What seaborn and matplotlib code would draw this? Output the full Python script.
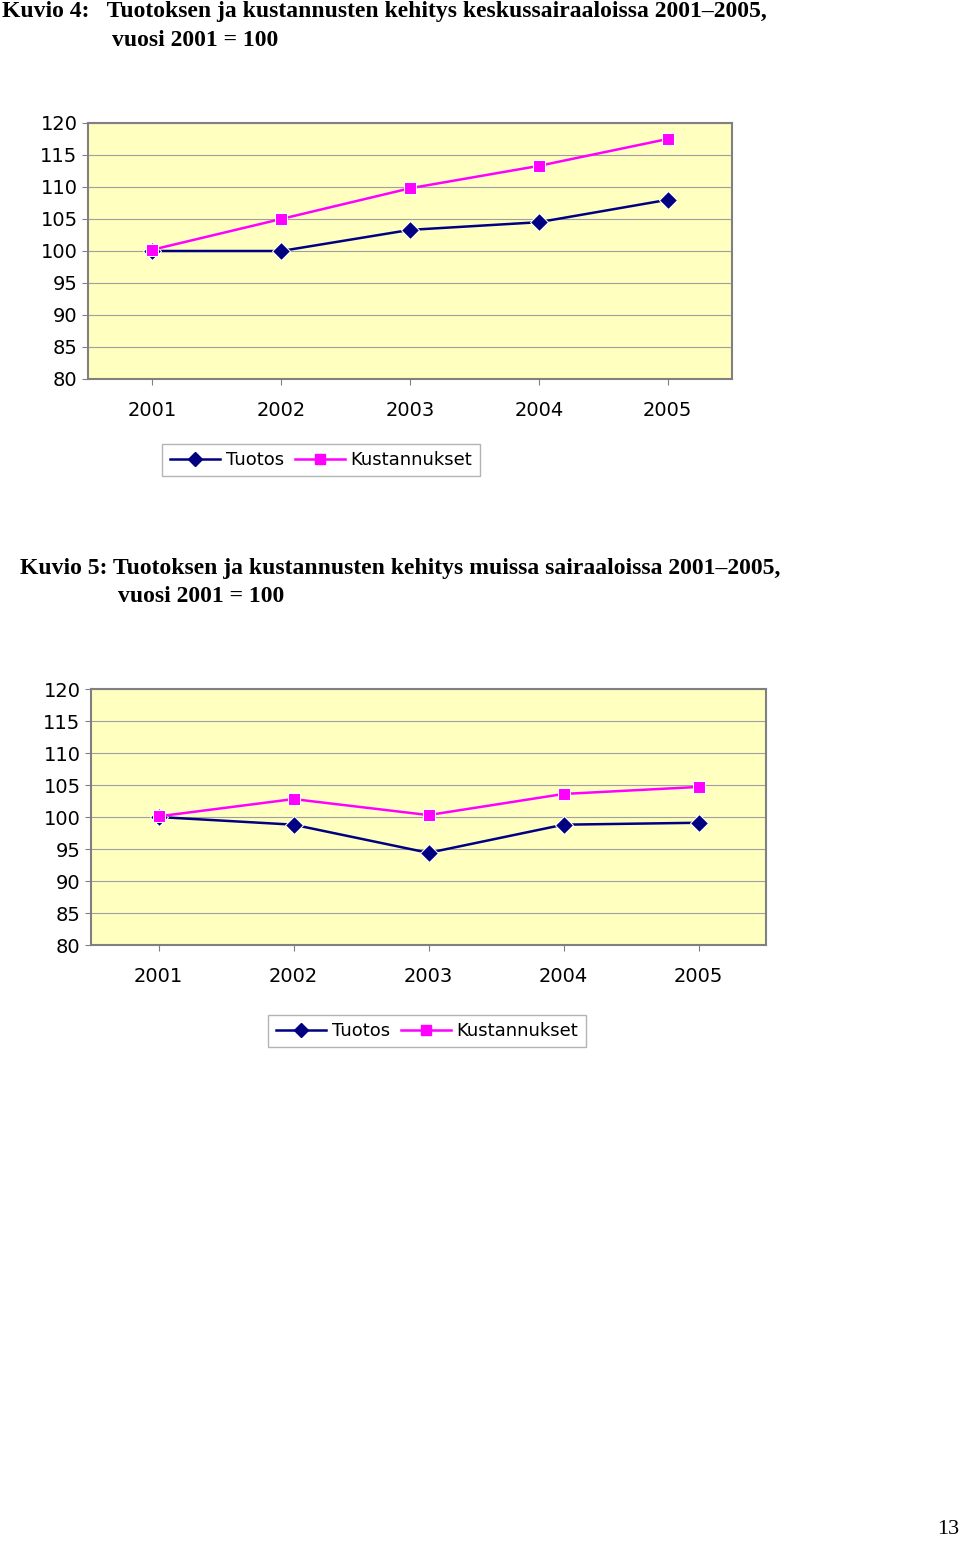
import matplotlib
matplotlib.use("Agg")
import matplotlib.pyplot as plt
import seaborn as sns
import pandas as pd

years = ["2001", "2002", "2003", "2004", "2005"]
yticks = [80, 85, 90, 95, 100, 105, 110, 115, 120]

# Kuvio 4: keskussairaalat
tuotos_4 = [100.0, 100.0, 103.3, 104.5, 108.0]
kust_4 = [100.2, 105.0, 109.8, 113.3, 117.5]

# Kuvio 5: muut sairaalat
tuotos_5 = [100.0, 98.8, 94.4, 98.8, 99.1]
kust_5 = [100.1, 102.8, 100.3, 103.6, 104.7]

W, H = 960, 1541
fig = plt.figure(figsize=(W / 100, H / 100), dpi=100)


def px_axes(x0, y0, x1, y1):
    return fig.add_axes([x0 / W, 1 - y1 / H, (x1 - x0) / W, (y1 - y0) / H])


def draw_chart(ax, tuotos, kust, legend_box):
    df = pd.DataFrame({
        "x": list(range(len(years))) * 2,
        "y": tuotos + kust,
        "sarja": ["Tuotos"] * len(years) + ["Kustannukset"] * len(years),
    })
    sns.lineplot(data=df, x="x", y="y", hue="sarja", style="sarja",
                 markers={"Tuotos": "D", "Kustannukset": "s"}, dashes=False,
                 palette={"Tuotos": "#000080", "Kustannukset": "#FF00FF"},
                 markersize=9, linewidth=1.8, ax=ax, legend=False)
    ax.set_facecolor("#FFFFC0")
    ax.set_xlim(-0.5, 4.5)
    ax.set_ylim(80, 120)
    ax.set_yticks(yticks)
    ax.set_xticks(range(len(years)))
    ax.set_xticklabels(years)
    ax.grid(axis="y", color="#A0A0A0", linewidth=0.8)
    ax.set_axisbelow(True)
    ax.set_xlabel("")
    ax.set_ylabel("")
    for s in ax.spines.values():
        s.set_color("#808080")
        s.set_linewidth(1.5)
    ax.tick_params(axis="both", labelsize=14, length=4, color="#808080")
    ax.tick_params(axis="x", pad=12)
    # legend
    h1, = ax.plot([], [], color="#000080", marker="D", markersize=7, lw=1.8)
    h2, = ax.plot([], [], color="#FF00FF", marker="s", markersize=7, lw=1.8)
    fig.legend([h1, h2], ["Tuotos", "Kustannukset"], ncol=2,
               loc="center", bbox_to_anchor=legend_box, fontsize=13,
               frameon=True, fancybox=False, edgecolor="#A0A0A0",
               handlelength=2.8, columnspacing=0.6, handletextpad=0.3)


fig.text(2 / W, 1 - 12 / H, "Kuvio 4:   Tuotoksen ja kustannusten kehitys keskussairaaloissa 2001\u20132005,",
         family="Liberation Serif", weight="bold", fontsize=17, va="center")
fig.text(112 / W, 1 - 40 / H, "vuosi 2001 = 100",
         family="Liberation Serif", weight="bold", fontsize=17, va="center")
ax1 = px_axes(88, 123, 732, 379)
draw_chart(ax1, tuotos_4, kust_4, (321 / W, 1 - 460 / H))

fig.text(20 / W, 1 - 569 / H, "Kuvio 5: Tuotoksen ja kustannusten kehitys muissa sairaaloissa 2001\u20132005,",
         family="Liberation Serif", weight="bold", fontsize=17, va="center")
fig.text(118 / W, 1 - 597 / H, "vuosi 2001 = 100",
         family="Liberation Serif", weight="bold", fontsize=17, va="center")
ax2 = px_axes(91, 689, 766, 945)
draw_chart(ax2, tuotos_5, kust_5, (427 / W, 1 - 1031 / H))

fig.text(948 / W, 1 - 1530 / H, "13", family="Liberation Serif", fontsize=16,
         ha="center", va="center")

fig.savefig("out.png", dpi=100)
